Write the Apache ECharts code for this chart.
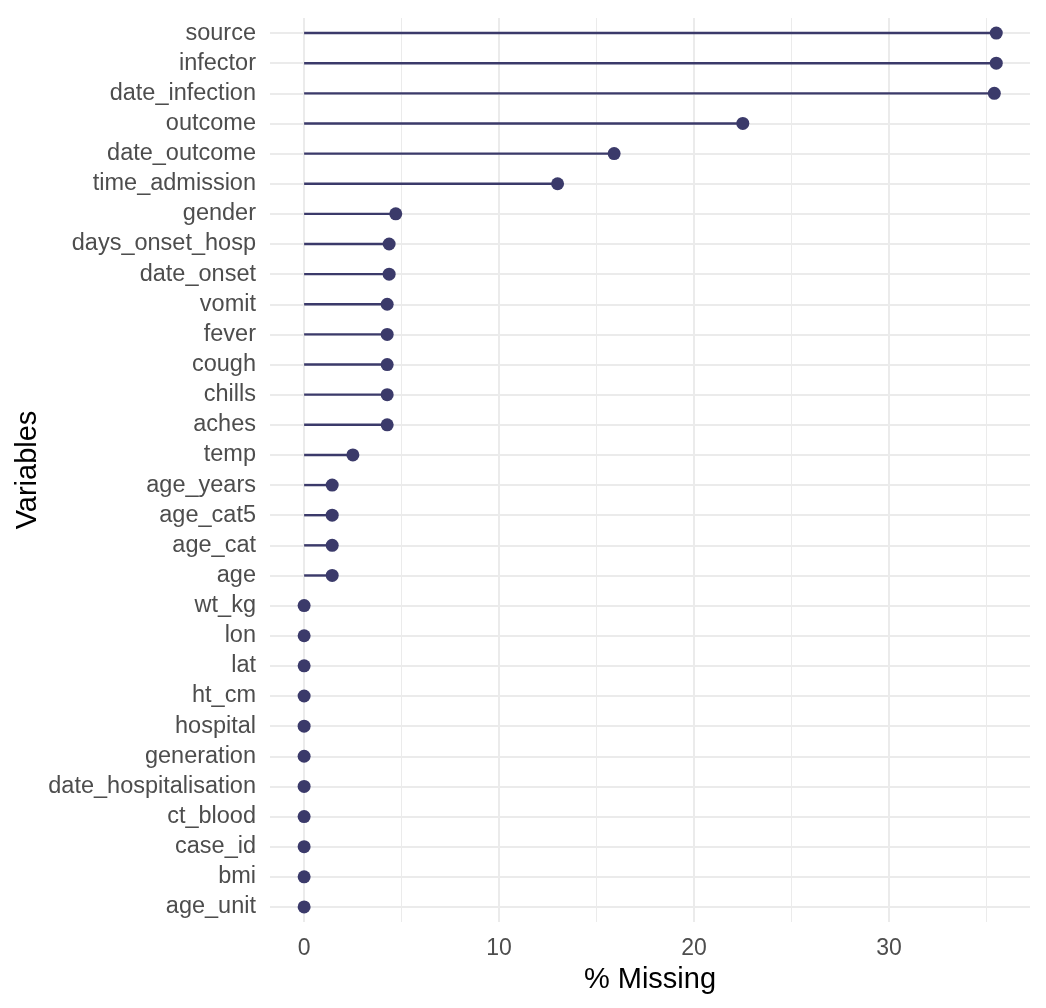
<!DOCTYPE html>
<html><head><meta charset="utf-8">
<script src="https://cdn.jsdelivr.net/npm/echarts@6/dist/echarts.min.js"></script>
<style>html,body{margin:0;padding:0;background:#fff}#c{width:1046px;height:1008px}</style>
</head><body><div id="c"></div>
<script>
// top to bottom
const variables = ["source","infector","date_infection","outcome","date_outcome","time_admission","gender","days_onset_hosp","date_onset","vomit","fever","cough","chills","aches","temp","age_years","age_cat5","age_cat","age","wt_kg","lon","lat","ht_cm","hospital","generation","date_hospitalisation","ct_blood","case_id","bmi","age_unit"];
const pctMissing = [35.5,35.5,35.4,22.5,15.9,13.0,4.7,4.36,4.36,4.26,4.26,4.26,4.26,4.26,2.5,1.44,1.44,1.44,1.44,0,0,0,0,0,0,0,0,0,0,0];
const majorTicks = [0,10,20,30];
const minorTicks = [5,15,25,35];

const cats = variables.slice().reverse();
const vals = pctMissing.slice().reverse();
const idx = cats.map((c,i)=>i);
const col = '#3b3a6a';
const font = 'Liberation Sans, Arial, Helvetica, sans-serif';
const chart = echarts.init(document.getElementById('c'), null, {renderer:'canvas'});
const xmin = -1.75, xmax = 37.23;
chart.setOption({
  animation:false,
  grid:{left:270, right:16, top:18, bottom:86, containLabel:false, outerBoundsMode:'none'},
  xAxis:[{
    type:'value', min:xmin, max:xmax,
    name:'% Missing', nameLocation:'middle', nameGap:43,
    nameTextStyle:{fontFamily:font,fontSize:29,color:'#000'},
    axisLine:{show:false}, axisTick:{show:false, customValues:majorTicks},
    axisLabel:{customValues:majorTicks, fontFamily:font,fontSize:23,color:'#4d4d4d',margin:15},
    splitLine:{show:true, lineStyle:{color:'#ebebeb', width:2}}
  },{
    type:'value', min:xmin, max:xmax, position:'bottom',
    axisLine:{show:false}, axisTick:{show:false, customValues:minorTicks},
    axisLabel:{show:false, customValues:minorTicks},
    splitLine:{show:true, lineStyle:{color:'#ebebeb', width:1}}
  }],
  yAxis:{
    type:'value', min:-0.5, max:cats.length-0.5,
    name:'Variables', nameLocation:'middle', nameGap:228, nameRotate:90, nameMoveOverlap:false,
    nameTextStyle:{fontFamily:font,fontSize:29,color:'#000'},
    axisLine:{show:false}, axisTick:{show:false, customValues:idx},
    axisLabel:{customValues:idx, formatter:v=>cats[Math.round(v)], fontFamily:font,fontSize:23.5,color:'#4d4d4d',margin:14},
    splitLine:{show:true, lineStyle:{color:'#ebebeb', width:2}}
  },
  series:[{
    type:'custom', xAxisIndex:0,
    data: vals.map((v,i)=>[v,i]),
    renderItem:function(params, api){
      const v = api.value(0), i = api.value(1);
      const p0 = api.coord([0,i]), p1 = api.coord([v,i]);
      return {type:'line', shape:{x1:p0[0],y1:p0[1],x2:p1[0],y2:p1[1]}, style:{stroke:col, lineWidth:2.4}};
    },
    z:3
  },{
    type:'scatter', xAxisIndex:0, symbolSize:13, itemStyle:{color:col, opacity:1},
    data: vals.map((v,i)=>[v,i]), z:4
  }]
});
</script></body></html>
